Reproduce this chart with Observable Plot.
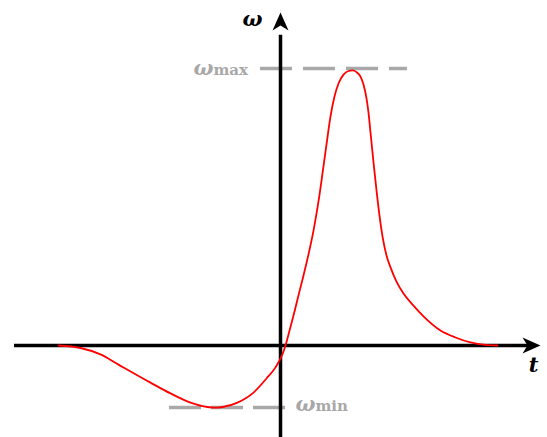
<!DOCTYPE html>
<html>
<head>
<meta charset="utf-8">
<script src="https://cdn.jsdelivr.net/npm/d3@7"></script>
<script src="https://cdn.jsdelivr.net/npm/@observablehq/plot@0.6"></script>
<style>
  html, body { margin: 0; padding: 0; background: #ffffff; }
  #chart svg { display: block; }
</style>
</head>
<body>
<div id="chart"></div>
<script>
// Angular velocity ω over time t: a shallow dip, then a sharp peak.
const tValues = [-2.22, -2.00, -1.80, -1.62, -1.30, -1.10, -0.90, -0.73, -0.65, -0.58,
                 -0.43, -0.27, -0.14, -0.05, 0.02, 0.05, 0.08, 0.13, 0.18, 0.23,
                 0.28, 0.33, 0.38, 0.42, 0.46, 0.50, 0.54, 0.58, 0.63, 0.68,
                 0.72, 0.76, 0.80, 0.83, 0.86, 0.88, 0.90, 0.93, 0.96, 0.99,
                 1.02, 1.06, 1.10, 1.16, 1.23, 1.33, 1.43, 1.60, 1.75, 1.90,
                 2.05, 2.17];
const omegaValues = [0, -0.009, -0.032, -0.069, -0.134, -0.173, -0.206, -0.222, -0.224, -0.222,
                     -0.206, -0.170, -0.119, -0.079, -0.031, 0, 0.040, 0.108, 0.181, 0.253,
                     0.329, 0.415, 0.520, 0.621, 0.726, 0.827, 0.899, 0.946, 0.978, 0.991,
                     0.993, 0.987, 0.971, 0.942, 0.892, 0.841, 0.769, 0.661, 0.560, 0.469,
                     0.394, 0.325, 0.282, 0.231, 0.188, 0.144, 0.105, 0.054, 0.029, 0.011,
                     0.002, 0];
const omegaMax = 1.0;
const omegaMin = -0.224;
const axisLabels = ["ω", "t"];
const levelLabels = [["ω", "max"], ["ω", "min"]];

const curve = tValues.map((t, i) => ({t, w: omegaValues[i]}));

// Filled, notched arrowhead pointing up, tip at the origin.
const arrowHead = {
  draw(context) {
    context.moveTo(0, 0);
    context.lineTo(8, 18);
    context.lineTo(0, 13);
    context.lineTo(-8, 18);
    context.closePath();
  }
};

const gray = "#a8a8a8";
const serif = "'DejaVu Serif', 'Liberation Serif', serif";
const symbolFont = {fontFamily: serif, fontWeight: "bold", fontStyle: "italic", fontSize: 21};
const subFont = {fontFamily: serif, fontWeight: "bold", fontSize: 15};

const chart = Plot.plot({
  width: 547,
  height: 437,
  margin: 0,
  x: {domain: [-2.80, 2.67], axis: null},
  y: {domain: [-0.3321, 1.2455], axis: null},
  style: {background: "#ffffff"},
  marks: [
    // reference levels
    Plot.ruleY([omegaMax], {x1: -0.20, x2: 1.27, stroke: gray, strokeWidth: 3.5, strokeDasharray: "32,11"}),
    Plot.ruleY([omegaMin], {x1: -1.11, x2: 0.07, stroke: gray, strokeWidth: 3.5, strokeDasharray: "32,10"}),
    // axes
    Plot.ruleY([0], {x1: -2.66, x2: 2.49, stroke: "black", strokeWidth: 3.5}),
    Plot.ruleX([0], {y1: -0.34, y2: 1.12, stroke: "black", strokeWidth: 3.5}),
    Plot.dot([{t: 2.60, w: 0, rot: 90}, {t: 0, w: 1.202, rot: 0}], {
      x: "t", y: "w", symbol: arrowHead, rotate: "rot", fill: "black", stroke: null, r: 5
    }),
    // curve
    Plot.line(curve, {x: "t", y: "w", stroke: "#ff0000", strokeWidth: 1.8, curve: "monotone-x"}),
    // axis labels
    Plot.text([axisLabels[0]], {x: -0.28, y: 1.152, text: d => d, lineAnchor: "bottom", fill: "black", ...symbolFont}),
    Plot.text([axisLabels[1]], {x: 2.53, y: -0.097, text: d => d, lineAnchor: "bottom", fill: "black", ...symbolFont}),
    // level labels: ω with a max / min subscript-style suffix
    Plot.text([levelLabels[0][0]], {x: -0.67, y: 0.978, text: d => d, textAnchor: "end", lineAnchor: "bottom", fill: gray, ...symbolFont}),
    Plot.text([levelLabels[0][1]], {x: -0.67, y: 0.978, text: d => d, textAnchor: "start", lineAnchor: "bottom", fill: gray, ...subFont}),
    Plot.text([levelLabels[1][0]], {x: 0.35, y: -0.238, text: d => d, textAnchor: "end", lineAnchor: "bottom", fill: gray, ...symbolFont}),
    Plot.text([levelLabels[1][1]], {x: 0.35, y: -0.238, text: d => d, textAnchor: "start", lineAnchor: "bottom", fill: gray, ...subFont})
  ]
});

document.getElementById("chart").appendChild(chart);
</script>
</body>
</html>
